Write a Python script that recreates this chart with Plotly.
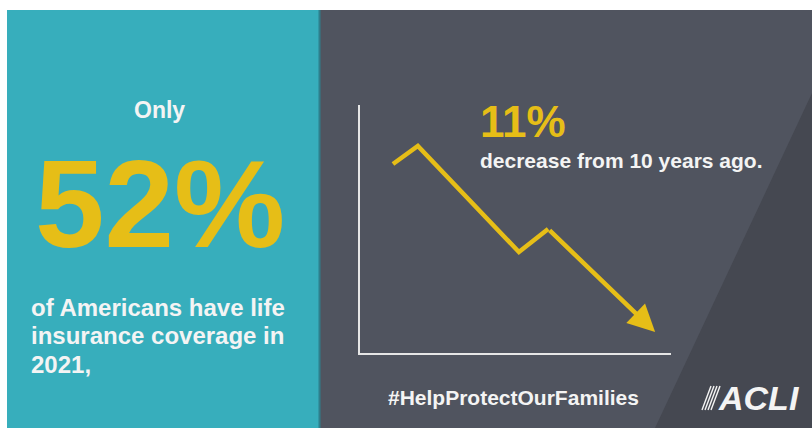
import plotly.graph_objects as go

W, H = 812, 428

# ---- data ----
trend_x = [1.06, 1.86, 5.11, 6.05, 9.49]
trend_y = [7.62, 8.35, 4.07, 5.00, 0.85]

headline_pre = "Only"
headline_value = "52%"
headline_body_lines = ["of Americans have life", "insurance coverage in", "2021,"]
change_value = "11%"
change_text = "decrease from 10 years ago."
hashtag = "#HelpProtectOurFamilies"
brand = "ACLI"

# ---- styles ----
TEAL = "#37AEBC"
DARK = "#50545F"
DARKER = "#454851"
YELLOW = "#E6BE17"
WHITE = "#F4F4F4"
FONT = "Liberation Sans"


def px(x):
    return x / W


def py(y):
    return 1 - y / H


shapes = [
    dict(type="rect", xref="paper", yref="paper", x0=px(320), x1=px(812), y0=py(428), y1=py(10),
         fillcolor=DARK, line=dict(width=0), layer="below"),
    dict(type="path", xref="paper", yref="paper",
         path=f"M {px(812)} {py(93)} L {px(812)} {py(428)} L {px(655)} {py(428)} Z",
         fillcolor=DARKER, line=dict(width=0), layer="below"),
    dict(type="rect", xref="paper", yref="paper", x0=px(7), x1=px(320), y0=py(428), y1=py(10),
         fillcolor=TEAL, line=dict(width=0), layer="below"),
    dict(type="rect", xref="paper", yref="paper", x0=px(318.5), x1=px(320.5), y0=py(428), y1=py(10),
         fillcolor="#2E7F8C", line=dict(width=0), layer="below"),
]
# logo stripes
for i in range(4):
    xt = 711 + 3 * i
    shapes.append(dict(type="line", xref="paper", yref="paper",
                       x0=px(xt), y0=py(386), x1=px(xt - 9), y1=py(410),
                       line=dict(color=WHITE, width=1.4)))

fig = go.Figure()
fig.add_trace(go.Scatter(x=trend_x[:4], y=trend_y[:4], mode="lines",
                         line=dict(color=YELLOW, width=4.5), hoverinfo="skip", showlegend=False))

annotations = [
    dict(x=trend_x[4], y=trend_y[4], ax=trend_x[3], ay=trend_y[3], xref="x", yref="y",
         axref="x", ayref="y", text="", showarrow=True, arrowhead=2, arrowsize=1.2,
         arrowwidth=4.5, arrowcolor=YELLOW, standoff=0, startstandoff=0),
    dict(x=px(159), y=py(110), xref="paper", yref="paper", text=headline_pre, showarrow=False,
         font=dict(family=FONT, size=23, color=WHITE, weight="bold"), xanchor="center", yanchor="middle"),
    dict(x=px(160), y=py(203), xref="paper", yref="paper", text=headline_value, showarrow=False,
         font=dict(family=FONT, size=125, color=YELLOW, weight="bold"), xanchor="center", yanchor="middle"),
    dict(x=px(478), y=py(122), xref="paper", yref="paper", text=change_value, showarrow=False,
         font=dict(family=FONT, size=44, color=YELLOW, weight="bold"), xanchor="left", yanchor="middle"),
    dict(x=px(478), y=py(160), xref="paper", yref="paper", text=change_text, showarrow=False,
         font=dict(family=FONT, size=21, color=WHITE, weight="bold"), xanchor="left", yanchor="middle"),
    dict(x=px(386), y=py(397), xref="paper", yref="paper", text=hashtag, showarrow=False,
         font=dict(family=FONT, size=21, color=WHITE, weight="bold"), xanchor="left", yanchor="middle"),
    dict(x=px(716), y=py(398), xref="paper", yref="paper", text=brand, showarrow=False,
         font=dict(family=FONT, size=34, color=WHITE, weight="bold", style="italic"),
         xanchor="left", yanchor="middle"),
]
for i, line in enumerate(headline_body_lines):
    annotations.append(dict(x=px(29), y=py(307 + 28.7 * i), xref="paper", yref="paper", text=line,
                            showarrow=False, align="left",
                            font=dict(family=FONT, size=24, color=WHITE, weight="bold"),
                            xanchor="left", yanchor="middle"))

fig.update_layout(
    width=W, height=H,
    margin=dict(l=0, r=0, t=0, b=0),
    paper_bgcolor="white", plot_bgcolor="rgba(0,0,0,0)",
    shapes=shapes, annotations=annotations, showlegend=False,
    xaxis=dict(domain=[px(360), px(671)], range=[0, 10], showgrid=False, zeroline=False,
               showticklabels=False, ticks="", showline=True, linecolor="#E6E6E6", linewidth=2),
    yaxis=dict(domain=[py(353), py(105)], range=[0, 10], showgrid=False, zeroline=False,
               showticklabels=False, ticks="", showline=True, linecolor="#E6E6E6", linewidth=2),
)

fig.write_html("out.html", config={"displayModeBar": False},
               post_script="document.body.style.margin='0';document.body.style.overflow='hidden';")
